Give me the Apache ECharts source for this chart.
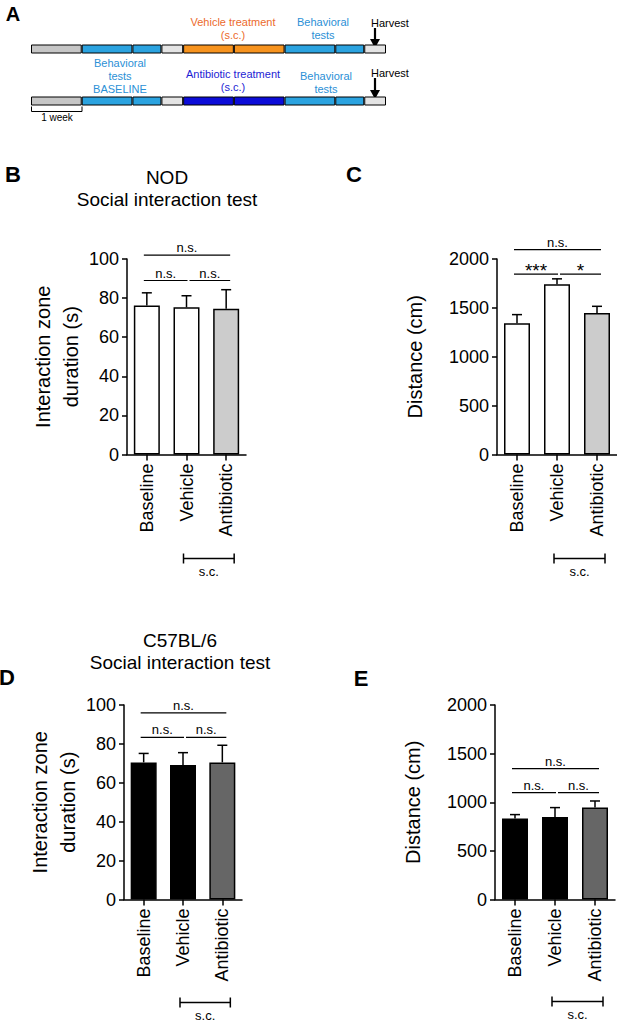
<!DOCTYPE html>
<html>
<head>
<meta charset="utf-8">
<script src="https://cdn.jsdelivr.net/npm/echarts@6/dist/echarts.min.js"></script>
<style>
html, body { margin: 0; padding: 0; background: #fff; }
#chart { width: 617px; height: 1021px; }
</style>
</head>
<body>
<div id="chart"></div>
<script>
// 分组
const groups = ['Baseline', 'Vehicle', 'Antibiotic'];

// B: NOD 互动区时长 (s)
const nodDuration = [76.2, 75.3, 74.5];
const nodDurationErr = [6.5, 5.9, 9.8];
// C: NOD 移动距离 (cm)
const nodDistance = [1342, 1742, 1448];
const nodDistanceErr = [89, 55, 68];
// D: C57BL/6 互动区时长 (s)
const b6Duration = [70.5, 69.1, 70.5];
const b6DurationErr = [4.6, 6.4, 8.8];
// E: C57BL/6 移动距离 (cm)
const b6Distance = [832, 849, 945];
const b6DistanceErr = [41, 96, 68];

// 显著性标记 [起, 止, y值]
const nodDurationSig = [[0, 2, 102], [0, 1, 89], [1, 2, 89]];
const nodDurationSigText = ['n.s.', 'n.s.', 'n.s.'];
const nodDistanceSig = [[0, 2, 2095], [0, 1, 1845], [1, 2, 1845]];
const nodDistanceSigText = ['n.s.', '***', '*'];
const b6DurationSig = [[0, 2, 96], [0, 1, 83.4], [1, 2, 83.4]];
const b6DurationSigText = ['n.s.', 'n.s.', 'n.s.'];
const b6DistanceSig = [[0, 2, 1346], [0, 1, 1100], [1, 2, 1100]];
const b6DistanceSigText = ['n.s.', 'n.s.', 'n.s.'];

// s.c. 括号覆盖的分组
const scRange = [1, 2];

// A: 时间线 (每段天数)
const timelineRows = ['Vehicle', 'Antibiotic'];
const segmentDays = [7, 7, 4, 3, 7, 7, 7, 4, 3];
const segmentKind = ['acclim', 'test', 'test', 'rest', 'treat', 'treat', 'test', 'test', 'rest'];

const FONT = 'Liberation Sans, Arial, Helvetica, sans-serif';

const kindColor = { acclim: '#c6c6c6', test: '#2ba3e0', rest: '#e4e4e4' };
const treatColor = ['#f7931e', '#0c0cd8'];

const chart = echarts.init(document.getElementById('chart'), null, { renderer: 'svg' });

const grids = [
    { left: 127, top: 259, width: 119, height: 195.5 },
    { left: 497, top: 259, width: 120, height: 195.5 },
    { left: 124, top: 705, width: 118, height: 194.5 },
    { left: 495, top: 705, width: 120, height: 194.5 },
    { left: 31, top: 23, width: 355, height: 104 }
].map(g => Object.assign({ outerBoundsMode: 'none', containLabel: false }, g));

const makeY = (gridIndex, max, interval, name, nameGap) => ({
    type: 'value',
    gridIndex,
    min: 0,
    max,
    interval,
    name,
    nameLocation: 'middle',
    nameGap,
    nameTextStyle: { fontSize: 20, color: '#000', fontFamily: FONT, lineHeight: 28 },
    axisLine: { show: true, lineStyle: { color: '#000', width: 1.5 } },
    axisTick: { show: true, length: 5, lineStyle: { color: '#000', width: 1.5 } },
    axisLabel: { fontSize: 18, color: '#000', margin: 8, fontFamily: FONT, formatter: (v) => String(v) },
    splitLine: { show: false }
});

const makeX = (gridIndex) => ({
    type: 'category',
    gridIndex,
    data: groups,
    axisLine: { show: true, lineStyle: { color: '#000', width: 1.5 } },
    axisTick: { show: true, alignWithLabel: true, length: 6, lineStyle: { color: '#000', width: 1.5 } },
    axisLabel: { rotate: 90, interval: 0, fontSize: 18, color: '#000', margin: 9, fontFamily: FONT },
    splitLine: { show: false }
});

// 柱子
const barSeries = (idx, values, fills) => ({
    type: 'bar',
    xAxisIndex: idx,
    yAxisIndex: idx,
    data: values,
    barWidth: 26,
    silent: true,
    itemStyle: {
        color: (p) => fills[p.dataIndex],
        borderColor: '#000',
        borderWidth: 1.5
    },
    z: 2
});

// 误差线(只画上半)
const errorSeries = (idx, values, errs) => ({
    type: 'custom',
    xAxisIndex: idx,
    yAxisIndex: idx,
    silent: true,
    z: 3,
    data: values.map((v, i) => [i, v, v + errs[i]]),
    encode: { x: 0, y: [1, 2] },
    renderItem: (params, api) => {
        const base = api.coord([api.value(0), api.value(1)]);
        const top = api.coord([api.value(0), api.value(2)]);
        const style = { stroke: '#000', lineWidth: 1.5 };
        return {
            type: 'group',
            children: [
                { type: 'line', shape: { x1: top[0], y1: base[1], x2: top[0], y2: top[1] }, style },
                { type: 'line', shape: { x1: top[0] - 5, y1: top[1], x2: top[0] + 5, y2: top[1] }, style }
            ]
        };
    }
});

// 显著性横线
const sigSeries = (idx, sig, texts) => ({
    type: 'custom',
    xAxisIndex: idx,
    yAxisIndex: idx,
    silent: true,
    z: 3,
    clip: false,
    data: sig,
    encode: { x: [0, 1], y: 2 },
    renderItem: (params, api) => {
        const from = api.value(0);
        const to = api.value(1);
        const p1 = api.coord([from, api.value(2)]);
        const p2 = api.coord([to, api.value(2)]);
        let x1 = p1[0] - 3;
        let x2 = p2[0] + 4;
        if (to - from === 1) {
            if (from === 0) x2 = p2[0] + 1;
            else x1 = p1[0] + 3;
        }
        const label = texts[params.dataIndex];
        const star = label.indexOf('*') >= 0;
        return {
            type: 'group',
            children: [
                { type: 'line', shape: { x1, y1: p1[1], x2, y2: p1[1] }, style: { stroke: '#000', lineWidth: 1.2 } },
                {
                    type: 'text',
                    style: {
                        text: label,
                        x: (x1 + x2) / 2,
                        y: star ? p1[1] + 6 : p1[1] - 1,
                        align: 'center',
                        verticalAlign: 'bottom',
                        fontSize: star ? 19 : 13,
                        fontFamily: FONT,
                        fill: '#000'
                    }
                }
            ]
        };
    }
});

// s.c. 括号
const scSeries = (idx, drop) => ({
    type: 'custom',
    xAxisIndex: idx,
    yAxisIndex: idx,
    silent: true,
    clip: false,
    data: [[scRange[0], scRange[1], 0]],
    encode: { x: [0, 1], y: 2 },
    renderItem: (params, api) => {
        const a = api.coord([api.value(0), 0]);
        const b = api.coord([api.value(1), 0]);
        const y = a[1] + drop;
        const x1 = a[0] - 3;
        const x2 = b[0] + 8;
        const style = { stroke: '#000', lineWidth: 1.5 };
        return {
            type: 'group',
            children: [
                { type: 'line', shape: { x1, y1: y, x2, y2: y }, style },
                { type: 'line', shape: { x1, y1: y - 5, x2: x1, y2: y + 5 }, style },
                { type: 'line', shape: { x1: x2, y1: y - 5, x2, y2: y + 5 }, style },
                {
                    type: 'text',
                    style: {
                        text: 's.c.', x: (x1 + x2) / 2, y: y + 6,
                        align: 'center', verticalAlign: 'top',
                        fontSize: 13, fontFamily: FONT, fill: '#000'
                    }
                }
            ]
        };
    }
});

// A: 时间线分段
const timelineSeries = segmentDays.map((d, i) => ({
    type: 'bar',
    xAxisIndex: 4,
    yAxisIndex: 4,
    stack: 'timeline',
    barWidth: 9,
    silent: true,
    data: timelineRows.map(() => d),
    itemStyle: {
        color: (p) => segmentKind[i] === 'treat' ? treatColor[p.dataIndex] : kindColor[segmentKind[i]],
        borderColor: '#000',
        borderWidth: 1
    }
}));

const txt = (text, x, y, size, color, opts) => ({
    type: 'text',
    silent: true,
    style: Object.assign({
        text, x, y,
        fontSize: size,
        fontFamily: FONT,
        fill: color,
        align: 'center',
        textAlign: 'center',
        verticalAlign: 'middle',
        textVerticalAlign: 'middle',
        lineHeight: 13
    }, opts || {})
});

const arrow = (x, y1, y2) => ([
    { type: 'line', silent: true, shape: { x1: x, y1, x2: x, y2: y2 - 7 }, style: { stroke: '#000', lineWidth: 2.2 } },
    { type: 'polygon', silent: true, shape: { points: [[x - 5, y2 - 9], [x + 5, y2 - 9], [x, y2]] }, style: { fill: '#000' } }
]);

const orange = '#ec6a2c';
const lightBlue = '#2b90d6';
const darkBlue = '#1d1dd4';

const graphics = [
    // 面板字母
    txt('A', 13, 14, 20, '#000', { fontWeight: 'bold' }),
    txt('B', 13, 174, 22, '#000', { fontWeight: 'bold' }),
    txt('C', 354, 174, 22, '#000', { fontWeight: 'bold' }),
    txt('D', 7, 677, 22, '#000', { fontWeight: 'bold' }),
    txt('E', 361, 678, 22, '#000', { fontWeight: 'bold' }),
    // 标题
    txt('NOD\nSocial interaction test', 167, 188, 19, '#000', { lineHeight: 22 }),
    txt('C57BL/6\nSocial interaction test', 180, 651, 19, '#000', { lineHeight: 22 }),
    // 时间线文字
    txt('Vehicle treatment\n(s.c.)', 233, 28.5, 11, orange),
    txt('Behavioral\ntests', 323, 28.5, 11, lightBlue),
    txt('Harvest', 371, 23, 11, '#000', { align: 'left', textAlign: 'left' }),
    txt('Behavioral\ntests\nBASELINE', 120, 75.5, 11, lightBlue),
    txt('Antibiotic treatment\n(s.c.)', 233, 80.5, 11, darkBlue),
    txt('Behavioral\ntests', 326, 82, 11, lightBlue),
    txt('Harvest', 371, 73, 11, '#000', { align: 'left', textAlign: 'left' }),
    txt('1 week', 57, 117.5, 10, '#000'),
    { type: 'polyline', silent: true, shape: { points: [[31.5, 106.5], [31.5, 111.5], [82, 111.5], [82, 106.5]] }, style: { stroke: '#000', lineWidth: 1, fill: null } }
].concat(arrow(375, 28, 48), arrow(375, 78, 99));

const option = {
    animation: false,
    backgroundColor: '#fff',
    textStyle: { fontFamily: FONT },
    grid: grids,
    xAxis: [
        makeX(0), makeX(1), makeX(2), makeX(3),
        { type: 'value', gridIndex: 4, min: 0, max: 49, show: false }
    ],
    yAxis: [
        makeY(0, 100, 20, 'Interaction zone\nduration (s)', 42),
        makeY(1, 2000, 500, 'Distance (cm)', 68),
        makeY(2, 100, 20, 'Interaction zone\nduration (s)', 40),
        makeY(3, 2000, 500, 'Distance (cm)', 68),
        { type: 'category', gridIndex: 4, data: timelineRows, inverse: true, show: false }
    ],
    series: [
        barSeries(0, nodDuration, ['#fff', '#fff', '#cccccc']),
        errorSeries(0, nodDuration, nodDurationErr),
        sigSeries(0, nodDurationSig, nodDurationSigText),
        scSeries(0, 104),
        barSeries(1, nodDistance, ['#fff', '#fff', '#cccccc']),
        errorSeries(1, nodDistance, nodDistanceErr),
        sigSeries(1, nodDistanceSig, nodDistanceSigText),
        scSeries(1, 104),
        barSeries(2, b6Duration, ['#000', '#000', '#666666']),
        errorSeries(2, b6Duration, b6DurationErr),
        sigSeries(2, b6DurationSig, b6DurationSigText),
        scSeries(2, 103),
        barSeries(3, b6Distance, ['#000', '#000', '#666666']),
        errorSeries(3, b6Distance, b6DistanceErr),
        sigSeries(3, b6DistanceSig, b6DistanceSigText),
        scSeries(3, 102)
    ].concat(timelineSeries),
    graphic: graphics
};

chart.setOption(option);
</script>
</body>
</html>
